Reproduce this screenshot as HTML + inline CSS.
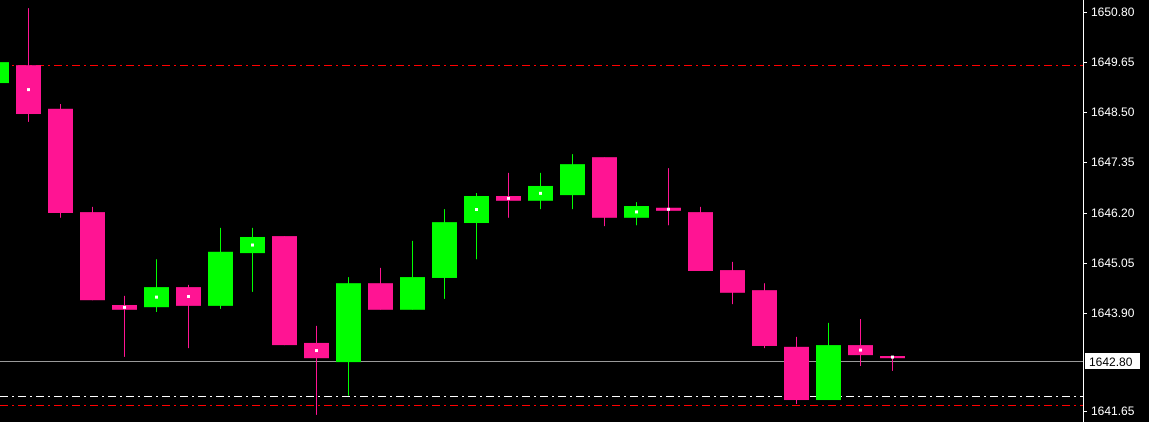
<!DOCTYPE html>
<html><head><meta charset="utf-8"><style>
html,body{margin:0;padding:0;background:#000;}
svg{display:block;}
text{font-family:"Liberation Sans",sans-serif;font-size:12px;fill:#fff;}
</style></head><body>
<svg id="chart" width="1149" height="422" viewBox="0 0 1149 422"></svg>
<script>
const opens  = [1649.17,1649.58,1648.58,1646.21,1644.08,1644.03,1644.49,1644.06,1645.27,1645.66,1643.21,1642.77,1644.58,1643.97,1644.70,1645.96,1646.58,1646.47,1646.60,1647.47,1646.08,1646.31,1646.21,1644.88,1644.42,1643.12,1641.90,1643.16,1642.91];
const highs  = [1649.65,1650.89,1648.69,1646.33,1644.29,1645.13,1644.54,1645.85,1645.85,1645.66,1643.60,1644.72,1644.93,1645.55,1646.28,1646.65,1647.11,1647.11,1647.54,1647.47,1646.44,1647.22,1646.33,1645.07,1644.58,1643.35,1643.67,1643.76,1642.91];
const lows   = [1649.17,1648.28,1646.08,1644.19,1642.89,1643.92,1643.09,1643.99,1644.38,1643.16,1641.56,1642.00,1643.97,1643.97,1644.22,1645.13,1646.08,1646.28,1646.28,1645.89,1645.91,1645.91,1644.86,1644.10,1643.09,1641.81,1641.90,1642.68,1642.57];
const closes = [1649.65,1648.46,1646.19,1644.19,1643.97,1644.49,1644.06,1645.30,1645.64,1643.16,1642.86,1644.58,1643.97,1644.72,1645.98,1646.58,1646.47,1646.81,1647.31,1646.08,1646.35,1646.24,1644.86,1644.36,1643.14,1641.90,1643.16,1642.93,1642.86];
const marked = [0,1,0,0,1,1,1,0,1,0,1,0,0,0,0,1,1,1,0,0,1,1,0,0,0,0,0,1,1];
const tickLabels = ["1650.80","1649.65","1648.50","1647.35","1646.20","1645.05","1643.90","1641.65"];
const currentPrice = 1642.80;
const redLevels = [1649.58,1641.79];
const whiteLevel = 1641.99;

const NS="http://www.w3.org/2000/svg";
const svg=document.getElementById('chart');
const yTop=12, pTop=1650.80, pxPer=43.6, axisX=1083;
function y(p){return yTop+(pTop-p)*pxPer;}
function x(i){return -4+32*i;}
function mk(tag,attrs,parent){const e=document.createElementNS(NS,tag);for(const k in attrs)e.setAttribute(k,attrs[k]);(parent||svg).appendChild(e);return e;}

redLevels.forEach(function(p){
  const l=mk('line',{x1:0,x2:axisX,y1:Math.round(y(p))+0.5,y2:Math.round(y(p))+0.5,stroke:'#ff0000','stroke-width':1,'stroke-dasharray':'8 4 2 4','shape-rendering':'crispEdges'});
  
  
});
const wl=mk('line',{x1:0,x2:axisX,y1:Math.round(y(whiteLevel))+0.5,y2:Math.round(y(whiteLevel))+0.5,stroke:'#fff','stroke-width':1,'stroke-dasharray':'8 4 2 4','shape-rendering':'crispEdges'});


const cl=mk('line',{x1:0,x2:axisX,y1:Math.round(y(currentPrice))+0.5,y2:Math.round(y(currentPrice))+0.5,stroke:'#9a9a9a','stroke-width':1,'shape-rendering':'crispEdges'});



for(let i=0;i<opens.length;i++){
  const up=closes[i]>=opens[i];
  const col=up?'#00ff00':'#ff1493';
  const g=mk('g',{});
  
  
  const cx=x(i);
  mk('line',{x1:cx+0.5,x2:cx+0.5,y1:y(highs[i]),y2:y(lows[i]),stroke:col,'stroke-width':1},g);
  const top=y(Math.max(opens[i],closes[i])), bot=y(Math.min(opens[i],closes[i]));
  mk('rect',{x:cx-12,y:top,width:25,height:Math.max(2,bot-top),fill:col},g);
  if(marked[i]){
    mk('rect',{x:cx-1,y:(top+bot)/2-1.5,width:3,height:3,fill:'#fff'},g);
  }
}

const ax=mk('line',{x1:axisX+0.5,x2:axisX+0.5,y1:0,y2:422,stroke:'#fff','stroke-width':1});


tickLabels.forEach(function(t){
  const ty=Math.round(y(parseFloat(t)));
  mk('line',{x1:axisX,x2:axisX+4,y1:ty+0.5,y2:ty+0.5,stroke:'#fff'});
  const tx=mk('text',{x:1091,y:ty+4});
  tx.textContent=t;
  
  
});
const cy=Math.round(y(currentPrice));
const box=mk('rect',{x:1085,y:cy-8,width:55,height:16,fill:'#fff'});


const ct=mk('text',{x:1089,y:cy+5,style:'fill:#000'});
ct.textContent=currentPrice.toFixed(2);


</script>
</body></html>
